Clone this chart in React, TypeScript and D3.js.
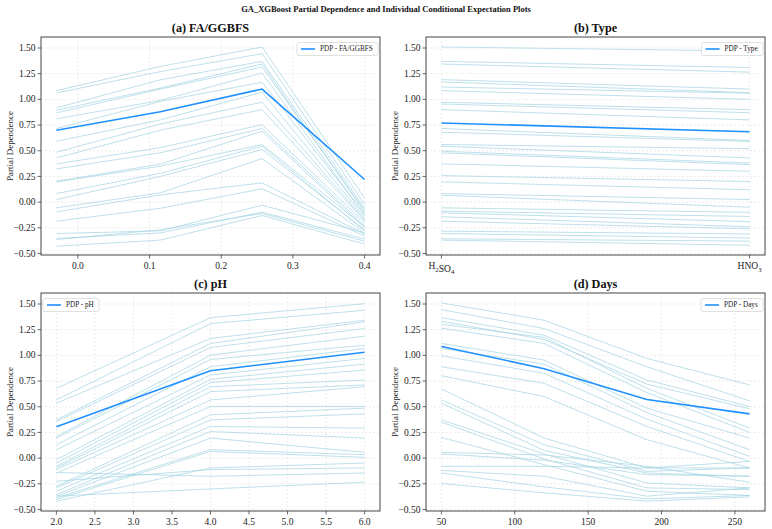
import React from "react";
import * as d3 from "d3";

// ---- data ----
const FA_GRID = [-0.03, 0.115, 0.257, 0.4];
const FA_PDP = [0.7, 0.88, 1.1, 0.22];
const FA_ICE = [
  [1.085, 1.32, 1.51, 0.04],
  [1.062, 1.27, 1.445, -0.02],
  [0.917, 1.19, 1.37, -0.06],
  [0.894, 1.11, 1.344, -0.1],
  [0.868, 1.1, 1.315, -0.08],
  [0.81, 0.99, 1.257, -0.13],
  [0.716, 0.98, 1.166, -0.12],
  [0.592, 0.8, 1.069, -0.15],
  [0.485, 0.76, 0.972, -0.17],
  [0.43, 0.7, 0.9, -0.18],
  [0.372, 0.53, 0.754, -0.2],
  [0.323, 0.48, 0.716, -0.23],
  [0.203, 0.37, 0.69, -0.25],
  [0.197, 0.35, 0.56, -0.24],
  [0.083, 0.28, 0.544, -0.28],
  [0.025, 0.25, 0.511, -0.27],
  [-0.056, 0.09, 0.424, -0.3],
  [-0.095, 0.07, 0.187, -0.31],
  [-0.186, -0.06, 0.129, -0.33],
  [-0.306, -0.28, -0.03, -0.3],
  [-0.354, -0.3, -0.098, -0.36],
  [-0.364, -0.27, -0.111, -0.38],
  [-0.429, -0.37, -0.13, -0.41],
];

const TYPE_GRID = [0, 1];
const TYPE_PDP = [0.77, 0.685];
const TYPE_ICE = [
  [1.51, 1.47], [1.37, 1.31], [1.344, 1.265], [1.192, 1.1], [1.169, 1.065],
  [1.12, 1.06], [1.085, 1.0], [0.972, 0.9], [0.955, 0.87], [0.9, 0.8],
  [0.716, 0.6], [0.68, 0.59], [0.56, 0.52], [0.544, 0.43], [0.495, 0.38],
  [0.479, 0.365], [0.372, 0.3], [0.258, 0.2], [0.197, 0.12], [0.083, 0.025],
  [0.067, -0.05], [-0.056, -0.1], [-0.088, -0.14], [-0.104, -0.19], [-0.143, -0.24],
  [-0.186, -0.26], [-0.283, -0.31], [-0.306, -0.35], [-0.357, -0.38], [-0.37, -0.42],
];

const PH_GRID = [2, 4, 6];
const PH_PDP = [0.306, 0.85, 1.03];
const PH_ICE = [
  [0.679, 1.367, 1.503],
  [0.566, 1.309, 1.439],
  [0.534, 1.164, 1.342],
  [0.372, 1.116, 1.326],
  [0.356, 1.077, 1.261],
  [0.211, 1.002, 1.187],
  [0.195, 0.96, 1.099],
  [0.13, 0.889, 1.067],
  [0.082, 0.809, 0.97],
  [-0.015, 0.767, 0.915],
  [-0.048, 0.734, 0.857],
  [-0.08, 0.695, 0.76],
  [-0.096, 0.647, 0.712],
  [-0.112, 0.566, 0.695],
  [-0.145, 0.502, 0.502],
  [-0.274, 0.421, 0.486],
  [-0.29, 0.372, 0.43],
  [-0.322, 0.308, 0.292],
  [-0.355, 0.259, 0.195],
  [-0.371, 0.195, 0.056],
  [-0.387, 0.082, 0.033],
  [-0.403, 0.065, 0.007],
  [-0.419, -0.096, -0.048],
  [-0.225, -0.112, -0.096],
  [-0.14, -0.177, -0.145],
  [-0.37, -0.3, -0.235],
];

const DAYS_GRID = [50, 120, 190, 260];
const DAYS_PDP = [1.087, 0.87, 0.57, 0.43];
const DAYS_ICE = [
  [1.51, 1.342, 0.97, 0.712],
  [1.445, 1.261, 0.889, 0.557],
  [1.367, 1.196, 0.76, 0.502],
  [1.332, 1.154, 0.72, 0.48],
  [1.303, 1.174, 0.679, 0.292],
  [1.264, 1.116, 0.637, 0.25],
  [1.116, 0.954, 0.486, 0.195],
  [1.067, 0.915, 0.443, 0.082],
  [0.996, 0.825, 0.379, 0.017],
  [0.889, 0.728, 0.308, -0.032],
  [0.802, 0.599, 0.179, -0.096],
  [0.673, 0.195, -0.096, -0.032],
  [0.566, 0.13, -0.129, -0.096],
  [0.534, 0.075, -0.145, -0.177],
  [0.372, 0.04, -0.242, -0.29],
  [0.35, -0.009, -0.29, -0.306],
  [0.201, -0.064, -0.322, -0.364],
  [0.056, 0.03, -0.08, -0.235],
  [0.04, -0.02, -0.161, -0.177],
  [-0.08, -0.08, -0.096, -0.096],
  [-0.12, -0.177, -0.371, -0.29],
  [-0.145, -0.28, -0.397, -0.364],
  [-0.248, -0.338, -0.419, -0.378],
];

const Y_TICKS = [-0.5, -0.25, 0, 0.25, 0.5, 0.75, 1.0, 1.25, 1.5];
const FA_TICKS = [0, 0.1, 0.2, 0.3, 0.4];
const PH_TICKS = [2, 2.5, 3, 3.5, 4, 4.5, 5, 5.5, 6];
const DAYS_TICKS = [50, 100, 150, 200, 250];

const W = 772;
const H = 529;
const FONT = "'Liberation Serif', 'Times New Roman', serif";
const ICE_COLOR = "#a3d4e3";
const PDP_COLOR = "#1e90ff";
const LEGEND_SIZE = 7.2;

const minus = (s: string) => s.replace("-", "\u2212");

// measure legend text so the frame hugs it
let ctx: CanvasRenderingContext2D | null = null;
function textWidth(s: string, size: number) {
  if (!ctx) ctx = document.createElement("canvas").getContext("2d");
  if (!ctx) return s.length * size * 0.5;
  ctx.font = `${size}px 'Liberation Serif', 'Times New Roman', serif`;
  return ctx.measureText(s).width;
}

type PanelProps = {
  x0: number;
  y0: number;
  w: number;
  h: number;
  title: string;
  grid: number[];
  pdp: number[];
  ice: number[][];
  xTicks: number[];
  xFmt?: (v: number) => string;
  categorical?: boolean;
  legend: string;
  legendLeft?: boolean;
};

function Sub({ base, sub }: { base: string[]; sub: string[] }) {
  // alternating plain / subscript pieces
  const parts: React.ReactNode[] = [];
  base.forEach((b, i) => {
    parts.push(<tspan key={"b" + i} fontSize={9.5}>{b}</tspan>);
    if (sub[i]) {
      parts.push(
        <tspan key={"s" + i} fontSize={6.8} dy={2.5}>{sub[i]}</tspan>
      );
      parts.push(<tspan key={"r" + i} dy={-2.5}></tspan>);
    }
  });
  return <>{parts}</>;
}

function Panel(p: PanelProps) {
  const xMin = d3.min(p.grid)!;
  const xMax = d3.max(p.grid)!;
  const pad = (xMax - xMin) * 0.05;
  const x = d3.scaleLinear().domain([xMin - pad, xMax + pad]).range([p.x0, p.x0 + p.w]);
  const y = d3.scaleLinear().domain([-0.515, 1.607]).range([p.y0 + p.h, p.y0]);
  const line = d3
    .line<number>()
    .x((_, i) => x(p.grid[i]))
    .y((d) => y(d));

  const tickX = p.categorical ? p.grid : p.xTicks;
  const legW = textWidth(p.legend, LEGEND_SIZE) + 28;
  const legX = p.legendLeft ? p.x0 + 2 : p.x0 + p.w - legW - 2;
  const legY = p.y0 + 5.5;

  return (
    <g>
      {/* grid */}
      {tickX.map((t) => (
        <line key={"gx" + t} x1={x(t)} x2={x(t)} y1={p.y0} y2={p.y0 + p.h}
          stroke="#d2d2d2" strokeWidth={0.6} strokeDasharray="2,2" opacity={0.7} />
      ))}
      {Y_TICKS.map((t) => (
        <line key={"gy" + t} x1={p.x0} x2={p.x0 + p.w} y1={y(t)} y2={y(t)}
          stroke="#d2d2d2" strokeWidth={0.6} strokeDasharray="2,2" opacity={0.7} />
      ))}
      {/* ICE curves */}
      {p.ice.map((row, i) => (
        <path key={"ice" + i} d={line(row)!} fill="none" stroke={ICE_COLOR}
          strokeWidth={0.9} opacity={0.8} />
      ))}
      {/* PDP */}
      <path d={line(p.pdp)!} fill="none" stroke={PDP_COLOR} strokeWidth={1.6} />
      {/* frame */}
      <rect x={p.x0} y={p.y0} width={p.w} height={p.h} fill="none" stroke="#444" strokeWidth={1} />
      {/* y axis */}
      {Y_TICKS.map((t) => (
        <g key={"yt" + t}>
          <line x1={p.x0 - 3.5} x2={p.x0} y1={y(t)} y2={y(t)} stroke="#444" strokeWidth={0.8} />
          <text x={p.x0 - 5.5} y={y(t)} dy="0.33em" textAnchor="end" fontSize={9.5} fill="#222">
            {minus(t.toFixed(2))}
          </text>
        </g>
      ))}
      {/* x axis */}
      {tickX.map((t, i) => (
        <g key={"xt" + t}>
          <line x1={x(t)} x2={x(t)} y1={p.y0 + p.h} y2={p.y0 + p.h + 3.5} stroke="#444" strokeWidth={0.8} />
          <text x={x(t)} y={p.y0 + p.h + 14} textAnchor="middle" fontSize={9.5} fill="#222">
            {p.categorical ? (
              i === 0 ? <Sub base={["H", "SO"]} sub={["2", "4"]} /> : <Sub base={["HNO"]} sub={["3"]} />
            ) : (
              p.xFmt ? p.xFmt(t) : String(t)
            )}
          </text>
        </g>
      ))}
      <text
        transform={`translate(${p.x0 - 28},${p.y0 + p.h / 2}) rotate(-90)`}
        textAnchor="middle" fontSize={9} fill="#222">
        Partial Dependence
      </text>
      <text x={p.x0 + p.w / 2} y={p.y0 - 5.5} textAnchor="middle" fontSize={12.2} fontWeight="bold" fill="#111">
        {p.title}
      </text>
      {/* legend */}
      <rect x={legX} y={legY} width={legW} height={13} rx={2} fill="white" fillOpacity={0.85}
        stroke="#d8d8d8" strokeWidth={0.8} />
      <line x1={legX + 4} x2={legX + 18} y1={legY + 6.5} y2={legY + 6.5} stroke={PDP_COLOR} strokeWidth={1.6} />
      <text x={legX + 23} y={legY + 6.5} dy="0.33em" fontSize={LEGEND_SIZE} fill="#222">{p.legend}</text>
    </g>
  );
}

export default function App() {
  const pw = 339;
  const ph = 218;
  return (
    <div style={{ position: "absolute", left: 0, top: 0, width: W, height: H, background: "white" }}>
      <svg width={W} height={H} style={{ display: "block", fontFamily: FONT }}>
        <rect width={W} height={H} fill="white" />
        <text x={W / 2} y={12} textAnchor="middle" fontSize={8.5} fontWeight="bold" fill="#111">
          GA_XGBoost Partial Dependence and Individual Conditional Expectation Plots
        </text>
        <Panel x0={41} y0={37} w={pw} h={ph} title="(a) FA/GGBFS" grid={FA_GRID} pdp={FA_PDP}
          ice={FA_ICE} xTicks={FA_TICKS} xFmt={(v) => v.toFixed(1)} legend="PDP - FA/GGBFS" />
        <Panel x0={426} y0={37} w={pw} h={ph} title="(b) Type" grid={TYPE_GRID} pdp={TYPE_PDP}
          ice={TYPE_ICE} xTicks={TYPE_GRID} categorical legend="PDP - Type" />
        <Panel x0={41} y0={293} w={pw} h={ph} title="(c) pH" grid={PH_GRID} pdp={PH_PDP}
          ice={PH_ICE} xTicks={PH_TICKS} xFmt={(v) => v.toFixed(1)} legend="PDP - pH" legendLeft />
        <Panel x0={426} y0={293} w={pw} h={ph} title="(d) Days" grid={DAYS_GRID} pdp={DAYS_PDP}
          ice={DAYS_ICE} xTicks={DAYS_TICKS} xFmt={(v) => String(v)} legend="PDP - Days" />
      </svg>
    </div>
  );
}
